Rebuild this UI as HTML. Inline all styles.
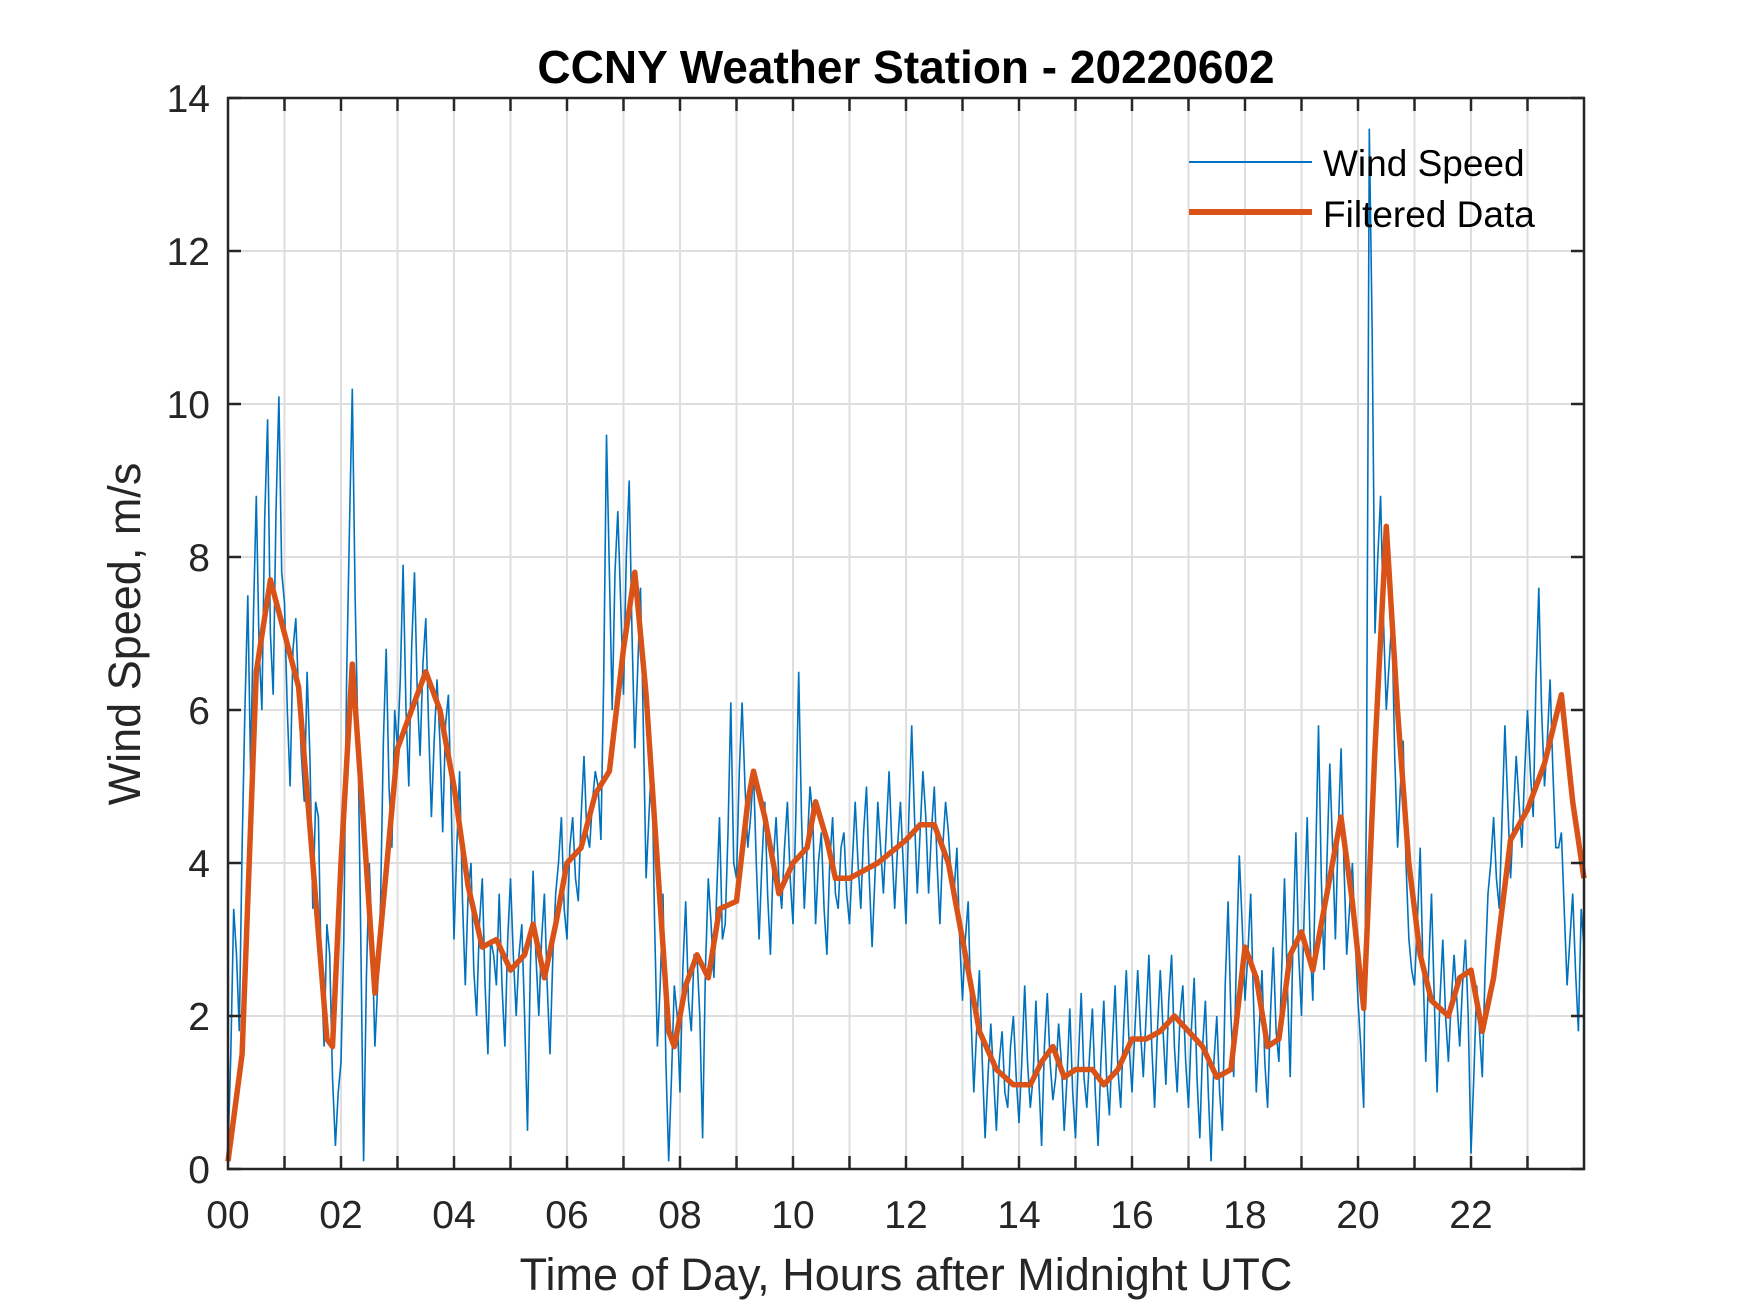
<!DOCTYPE html>
<html><head><meta charset="utf-8"><style>
body{margin:0;background:#fff;}
svg{display:block;font-family:"Liberation Sans",Arial,sans-serif;}
</style></head><body>
<svg id="chart" width="1750" height="1313" viewBox="0 0 1750 1313" xmlns="http://www.w3.org/2000/svg">
<rect width="1750" height="1313" fill="#fff"/>
<g id="grid"></g>
<g id="series"></g>
<g id="axes"></g>
<text x="906" y="83" text-anchor="middle" font-size="46" font-weight="bold" fill="#000">CCNY Weather Station - 20220602</text>
<text x="906" y="1290" text-anchor="middle" font-size="45" fill="#262626">Time of Day, Hours after Midnight UTC</text>
<text transform="translate(140,634) rotate(-90)" text-anchor="middle" font-size="45" fill="#262626">Wind Speed, m/s</text>
<g>
<line x1="1189" y1="162" x2="1312" y2="162" stroke="#0072BD" stroke-width="2"/>
<text x="1323" y="176" font-size="37" fill="#000">Wind Speed</text>
<line x1="1189" y1="212" x2="1312" y2="212" stroke="#D95319" stroke-width="6"/>
<text x="1323" y="227" font-size="37" fill="#000">Filtered Data</text>
</g>
</svg>
<script>
const rawStep = 0.1;
const rawValues = [
0.2,3.4,1.8,6.0,5.2,8.8,6.0,9.8,6.2,10.1,
7.4,5.0,7.2,5.4,6.5,3.4,4.6,1.6,2.8,0.3,
1.4,6.4,10.2,5.6,0.1,4.0,1.6,3.5,6.8,4.2,
5.5,7.9,5.0,7.8,5.4,7.2,4.6,6.4,4.4,6.2,
3.0,5.2,2.4,4.0,2.0,3.8,1.5,2.8,3.6,1.6,
3.8,2.0,3.2,0.5,3.9,2.0,3.6,1.5,3.6,4.6,
3.0,4.6,3.5,5.4,4.2,5.2,4.3,9.6,6.0,8.6,
6.2,9.0,5.5,7.6,3.8,5.4,1.6,3.6,0.1,2.4,
1.0,3.5,1.8,2.8,0.4,3.8,2.5,4.6,3.2,6.1,
3.8,6.1,4.2,5.2,3.0,4.8,2.8,4.6,3.4,4.8,
3.2,6.5,3.4,5.0,3.2,4.4,2.8,4.6,3.4,4.4,
3.2,4.8,3.4,5.0,2.9,4.8,3.6,5.2,3.4,4.8,
3.2,5.8,3.6,5.2,3.6,5.0,3.2,4.8,3.8,4.2,
2.2,3.5,1.0,2.6,0.4,1.9,0.5,1.8,0.8,2.0,
0.6,2.4,0.8,2.2,0.3,2.3,0.9,1.9,0.5,2.1,
0.4,2.3,0.8,2.1,0.3,2.2,0.7,2.4,0.8,2.6,
1.0,2.6,1.2,2.8,0.8,2.6,1.1,2.8,1.0,2.4,
0.8,2.5,0.4,2.2,0.1,2.0,0.5,3.5,1.2,4.1,
2.2,3.6,1.0,2.6,0.8,2.9,1.4,3.8,1.2,4.4,
2.0,4.6,2.2,5.8,2.6,5.3,3.0,5.5,2.8,4.0,
2.2,0.8,13.6,7.0,8.8,6.0,7.2,4.2,5.6,3.0,
2.4,4.2,1.4,3.6,1.0,3.0,1.4,2.8,1.6,3.0,
0.2,2.4,1.2,3.6,4.6,3.4,5.8,3.8,5.4,4.2,
6.0,4.6,7.6,5.0,6.4,4.2,4.4,2.4,3.6,1.8,
2.9];
const rawMidValues = [
1.5,2.8,4.2,7.5,7.2,6.8,8.5,7.0,8.6,7.8,
6.0,6.8,6.2,4.8,5.4,4.8,2.6,3.2,1.2,1.0,
3.0,8.4,7.5,3.0,2.5,3.0,2.4,5.6,5.0,6.0,
6.4,6.0,6.8,6.2,6.6,5.8,5.6,5.6,5.8,4.8,
4.2,3.5,3.6,2.6,3.2,2.4,3.0,2.4,2.4,3.0,
2.8,2.8,2.0,2.6,2.8,3.0,2.4,2.8,4.0,3.4,
4.2,3.8,4.6,4.4,4.8,5.0,6.4,7.8,7.8,7.4,
8.0,7.0,6.5,5.8,4.6,3.2,2.4,1.4,1.2,2.0,
2.6,2.2,2.8,2.0,2.6,3.2,3.6,3.0,4.4,4.0,
5.2,5.0,4.6,4.0,4.0,3.6,4.0,3.8,4.2,3.8,
4.6,4.6,4.2,4.6,4.0,3.4,4.0,3.6,4.2,3.6,
4.0,4.0,4.4,3.8,3.8,4.2,4.4,4.2,4.2,4.0,
4.6,4.6,4.4,4.6,4.4,4.0,4.2,4.4,3.6,3.0,
3.0,2.0,1.8,1.4,1.2,1.2,1.4,1.0,1.6,1.2,
1.4,1.4,1.2,1.2,1.6,1.4,1.2,1.4,1.2,1.0,
1.4,1.2,1.5,1.0,1.4,1.2,1.6,1.3,1.8,1.6,
1.8,1.8,2.0,1.6,1.8,1.8,2.2,1.6,2.0,1.4,
1.8,1.2,1.6,1.0,1.4,1.0,2.4,2.0,2.8,3.2,
2.8,2.2,1.8,1.4,2.0,1.8,2.6,2.4,3.0,2.8,
3.4,3.0,4.0,3.8,4.0,4.2,4.4,4.0,3.4,3.0,
1.6,5.0,11.0,8.0,7.2,6.6,5.4,5.0,4.0,2.6,
3.2,2.6,2.6,2.2,2.2,2.0,2.2,2.2,2.4,2.0,
1.2,1.8,2.6,4.0,3.8,4.6,4.8,4.6,4.8,5.2,
5.2,6.4,6.0,5.6,5.2,4.2,3.4,3.0,2.6,3.4];
const filtHours = [0,0.25,0.5,0.75,1.0,1.25,1.5,1.75,1.85,2.0,2.2,2.4,2.6,2.75,3.0,3.25,3.5,3.75,4.0,4.25,4.5,4.75,5.0,5.25,5.4,5.6,5.8,6.0,6.25,6.5,6.75,7.0,7.2,7.4,7.6,7.8,7.9,8.1,8.3,8.5,8.7,9.0,9.2,9.3,9.5,9.75,10.0,10.25,10.4,10.6,10.75,11.0,11.5,12.0,12.25,12.5,12.75,13.0,13.3,13.6,13.9,14.2,14.4,14.6,14.8,15.0,15.3,15.5,15.75,16.0,16.25,16.5,16.75,17.0,17.25,17.5,17.75,18.0,18.2,18.4,18.6,18.8,19.0,19.2,19.4,19.7,19.9,20.1,20.3,20.5,20.7,20.9,21.1,21.3,21.6,21.8,22.0,22.2,22.4,22.7,23.0,23.3,23.6,23.8,24.0];
const filtValues = [0.1,1.5,6.5,7.7,7.0,6.3,4.0,1.7,1.6,4.0,6.6,4.5,2.3,3.5,5.5,6.0,6.5,6.0,5.0,3.7,2.9,3.0,2.6,2.8,3.2,2.5,3.2,4.0,4.2,4.9,5.2,6.8,7.8,6.2,4.0,1.8,1.6,2.4,2.8,2.5,3.4,3.5,4.8,5.2,4.6,3.6,4.0,4.2,4.8,4.3,3.8,3.8,4.0,4.3,4.5,4.5,4.0,3.0,1.8,1.3,1.1,1.1,1.4,1.6,1.2,1.3,1.3,1.1,1.3,1.7,1.7,1.8,2.0,1.8,1.6,1.2,1.3,2.9,2.5,1.6,1.7,2.8,3.1,2.6,3.4,4.6,3.5,2.1,5.5,8.4,6.0,4.0,2.8,2.2,2.0,2.5,2.6,1.8,2.5,4.3,4.7,5.3,6.2,4.8,3.8];
const xTickLabels = ["00","02","04","06","08","10","12","14","16","18","20","22"];
const yTickLabels = ["0","2","4","6","8","10","12","14"];

const L=228,R=1584,T=98,B=1169,XMAX=24,YMAX=14;
const xs=h=>L+(R-L)*h/XMAX, ys=v=>B-(B-T)*v/YMAX;
const NS="http://www.w3.org/2000/svg";
function mk(tag,attrs,parent){const e=document.createElementNS(NS,tag);for(const k in attrs)e.setAttribute(k,attrs[k]);parent.appendChild(e);return e;}
const grid=document.getElementById('grid'),axes=document.getElementById('axes'),series=document.getElementById('series');
for(let h=1;h<24;h++){
  const g=mk('line',{x1:xs(h),x2:xs(h),y1:T,y2:B,stroke:'#dedede','stroke-width':2},grid);
  
  
}
for(let i=1;i<yTickLabels.length-1;i++){
  const v=+yTickLabels[i];
  const g=mk('line',{x1:L,x2:R,y1:ys(v),y2:ys(v),stroke:'#dedede','stroke-width':2},grid);
  
  
}
let d='';
rawValues.forEach((v,i)=>{
  d+=(i?'L':'M')+xs(i*rawStep).toFixed(1)+' '+ys(v).toFixed(1);
  if(i<rawMidValues.length){d+='L'+xs(i*rawStep+rawStep/2).toFixed(1)+' '+ys(rawMidValues[i]).toFixed(1);}
});
const raw=mk('path',{d:d,fill:'none',stroke:'#0072BD','stroke-width':1.6,'stroke-linejoin':'miter'},series);


let d2='';
filtHours.forEach((h,i)=>{d2+=(i?'L':'M')+xs(h).toFixed(1)+' '+ys(filtValues[i]).toFixed(1);});
const filt=mk('path',{d:d2,fill:'none',stroke:'#D95319','stroke-width':5.5,'stroke-linejoin':'round'},series);


const box=mk('rect',{x:L,y:T,width:R-L,height:B-T,fill:'none',stroke:'#262626','stroke-width':2.5},axes);


for(let h=1;h<24;h++){
  const t1=mk('line',{x1:xs(h),x2:xs(h),y1:B,y2:B-13,stroke:'#262626','stroke-width':2.5},axes);
  
  
  const t2=mk('line',{x1:xs(h),x2:xs(h),y1:T,y2:T+13,stroke:'#262626','stroke-width':2.5},axes);
  
  
}
xTickLabels.forEach((s,i)=>{
  const t=mk('text',{x:xs(+s),y:1228,'text-anchor':'middle','font-size':39,fill:'#262626'},axes);
  t.textContent=s;
  
  
});
yTickLabels.forEach(s=>{
  const v=+s;
  const a=mk('line',{x1:L,x2:L+13,y1:ys(v),y2:ys(v),stroke:'#262626','stroke-width':2.5},axes);
  
  
  const b=mk('line',{x1:R,x2:R-13,y1:ys(v),y2:ys(v),stroke:'#262626','stroke-width':2.5},axes);
  
  
  const t=mk('text',{x:210,y:ys(v)+14,'text-anchor':'end','font-size':39,fill:'#262626'},axes);
  t.textContent=s;
  
  
});
</script>
</body></html>
